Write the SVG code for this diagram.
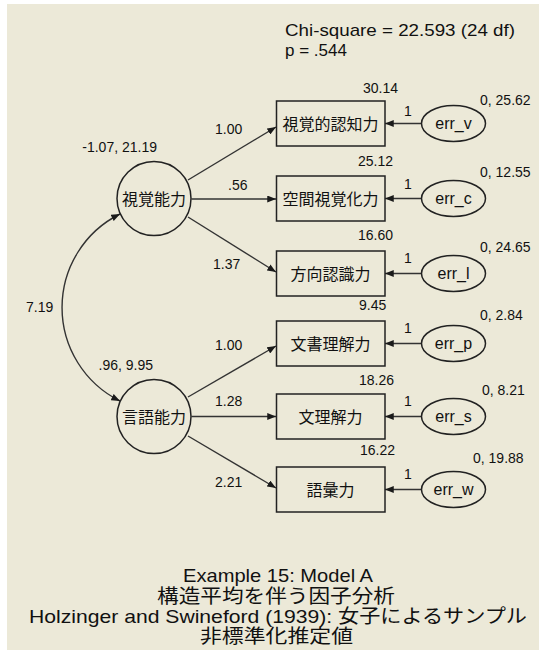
<svg xmlns="http://www.w3.org/2000/svg" width="539" height="652" viewBox="0 0 539 652">
<defs>
<marker id="ah" viewBox="0 0 10 8" refX="10" refY="4" markerWidth="9" markerHeight="7" markerUnits="userSpaceOnUse" orient="auto-start-reverse">
<path d="M0,0 L10,4 L0,8 z" fill="#1a1a1a"/>
</marker>
<style>
text{font-family:"Liberation Sans","Noto Sans CJK JP",sans-serif;fill:#111}
.num{font-size:14px}
.jp{font-size:16px;text-anchor:middle;font-family:"Noto Sans CJK JP","Liberation Sans",sans-serif}
.err{font-size:16px;text-anchor:middle}
.box{fill:none;stroke:#222;stroke-width:1.5}
.lat{fill:none;stroke:#222;stroke-width:1.5}
.con{fill:none;stroke:#333;stroke-width:1.4;marker-end:url(#ah)}
.cap{text-anchor:middle;font-size:19px}
</style>
</defs>
<rect x="0" y="0" width="539" height="652" fill="#ffffff"/>
<rect x="7" y="4" width="532" height="646" fill="#ECE9D8"/>

<text x="285" y="36" font-size="17" textLength="230" lengthAdjust="spacingAndGlyphs">Chi-square = 22.593 (24 df)</text>
<text x="285" y="56" font-size="17">p = .544</text>

<g id="connectors">
<path class="con" d="M120,214 A104.4,104.4 0 0 0 120,401" style="marker-start:url(#ah)"/>
<path class="con" d="M188,180 L276,127"/>
<path class="con" d="M191.5,199 L276,199"/>
<path class="con" d="M188,217 L276,272"/>
<path class="con" d="M188,397 L276,346"/>
<path class="con" d="M191.5,416.5 L276,416.5"/>
<path class="con" d="M188,436 L276,488"/>
<path class="con" d="M421.5,123.5 L385,123.5"/>
<path class="con" d="M421.5,198.5 L385,198.5"/>
<path class="con" d="M421.5,273.5 L385,273.5"/>
<path class="con" d="M421.5,343.5 L385,343.5"/>
<path class="con" d="M421.5,416.5 L385,416.5"/>
<path class="con" d="M421.5,489.5 L385,489.5"/>
<text class="num" x="26" y="312">7.19</text>
<text class="num" x="215" y="134">1.00</text>
<text class="num" x="228" y="190">.56</text>
<text class="num" x="213" y="269">1.37</text>
<text class="num" x="215" y="350">1.00</text>
<text class="num" x="215" y="406">1.28</text>
<text class="num" x="215" y="487">2.21</text>
<text class="num" x="404" y="116">1</text>
<text class="num" x="404" y="189">1</text>
<text class="num" x="404" y="263">1</text>
<text class="num" x="404" y="333">1</text>
<text class="num" x="404" y="406">1</text>
<text class="num" x="404" y="479">1</text>
</g>

<g id="visual">
<circle class="lat" cx="154" cy="198.5" r="37"/>
<text class="jp" x="154" y="204.5">視覚能力</text>
<text class="num" x="157" y="152" text-anchor="end">-1.07, 21.19</text>
</g>
<g id="verbal">
<circle class="lat" cx="154" cy="416.5" r="37"/>
<text class="jp" x="154" y="422.5">言語能力</text>
<text class="num" x="153" y="370" text-anchor="end">.96, 9.95</text>
</g>

<g id="visperc">
<rect class="box" x="276.5" y="101" width="108.5" height="45"/>
<text class="jp" x="330.5" y="129.5">視覚的認知力</text>
<text class="num" x="363" y="93">30.14</text>
</g>
<g id="cubes">
<rect class="box" x="276.5" y="176" width="108.5" height="45"/>
<text class="jp" x="330.5" y="204.5">空間視覚化力</text>
<text class="num" x="358" y="166">25.12</text>
</g>
<g id="lozenges">
<rect class="box" x="276.5" y="251" width="108.5" height="45"/>
<text class="jp" x="330.5" y="279.5">方向認識力</text>
<text class="num" x="358" y="240">16.60</text>
</g>
<g id="paragraph">
<rect class="box" x="276.5" y="321" width="108.5" height="45"/>
<text class="jp" x="330.5" y="349.5">文書理解力</text>
<text class="num" x="359" y="310">9.45</text>
</g>
<g id="sentence">
<rect class="box" x="276.5" y="394" width="108.5" height="45"/>
<text class="jp" x="330.5" y="422.5">文理解力</text>
<text class="num" x="359" y="385">18.26</text>
</g>
<g id="wordmean">
<rect class="box" x="276.5" y="467" width="108.5" height="45"/>
<text class="jp" x="330.5" y="495.5">語彙力</text>
<text class="num" x="360" y="455">16.22</text>
</g>

<g id="err_v">
<ellipse class="lat" cx="453.5" cy="123.5" rx="32" ry="18"/>
<text class="err" x="453.5" y="129">err_v</text>
<text class="num" x="480" y="105">0, 25.62</text>
</g>
<g id="err_c">
<ellipse class="lat" cx="453.5" cy="198.5" rx="32" ry="18"/>
<text class="err" x="453.5" y="204">err_c</text>
<text class="num" x="480" y="177">0, 12.55</text>
</g>
<g id="err_l">
<ellipse class="lat" cx="453.5" cy="273.5" rx="32" ry="18"/>
<text class="err" x="453.5" y="279">err_l</text>
<text class="num" x="480" y="252">0, 24.65</text>
</g>
<g id="err_p">
<ellipse class="lat" cx="453.5" cy="343.5" rx="32" ry="18"/>
<text class="err" x="453.5" y="349">err_p</text>
<text class="num" x="480" y="320">0, 2.84</text>
</g>
<g id="err_s">
<ellipse class="lat" cx="453.5" cy="416.5" rx="32" ry="18"/>
<text class="err" x="453.5" y="422">err_s</text>
<text class="num" x="482" y="395">0, 8.21</text>
</g>
<g id="err_w">
<ellipse class="lat" cx="453.5" cy="489.5" rx="32" ry="18"/>
<text class="err" x="453.5" y="495">err_w</text>
<text class="num" x="473" y="463">0, 19.88</text>
</g>

<g id="caption">
<text class="cap" x="278" y="582" textLength="190" lengthAdjust="spacingAndGlyphs">Example 15: Model A</text>
<text class="cap" x="276" y="603" textLength="238" lengthAdjust="spacingAndGlyphs">構造平均を伴う因子分析</text>
<text class="cap" x="278" y="623" textLength="498" lengthAdjust="spacingAndGlyphs">Holzinger and Swineford (1939): 女子によるサンプル</text>
<text class="cap" x="276.5" y="643" textLength="153" lengthAdjust="spacingAndGlyphs">非標準化推定値</text>
</g>
</svg>
